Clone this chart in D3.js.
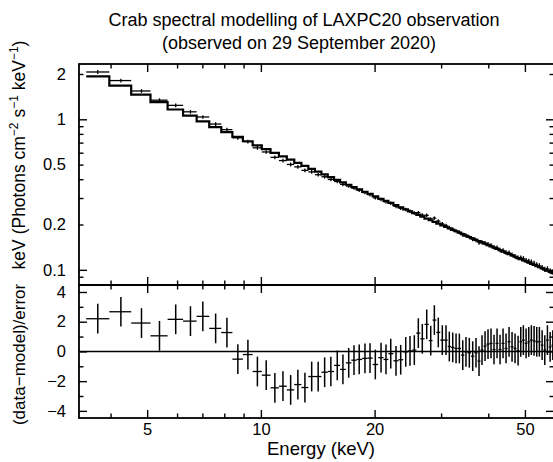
<!DOCTYPE html>
<html lang="en">
<head>
<meta charset="UTF-8">
<title>Crab spectral modelling of LAXPC20 observation</title>
<script src="https://d3js.org/d3.v7.min.js"></script>
<style>
  body { margin: 0; background: #fff; }
  svg { display: block; font-family: "Liberation Sans", Arial, Helvetica, sans-serif; }
  .frame { fill: none; stroke: #000; stroke-width: 1.8px; }
  .tick-axis path.domain { display: none; }
  .tick-axis line { stroke: #000; stroke-width: 1.4px; }
  .label-axis path.domain, .label-axis line { display: none; }
  .label-axis text { font-size: 16.5px; fill: #000; }
  .model { fill: none; stroke: #000; stroke-width: 2.2px; }
  .cross line { stroke: #000; stroke-width: 1.3px; }
  .zero { stroke: #000; stroke-width: 1.5px; }
</style>
</head>
<body>
<svg id="chart" width="553" height="462"></svg>
<script>
// bin centres (keV)
const energy = [3.70, 4.26, 4.83, 5.39, 5.95, 6.51, 7.02, 7.59, 8.13, 8.69,
  9.24, 9.79, 10.33, 10.89, 11.44, 11.99, 12.53, 13.08, 13.63, 14.18,
  14.75, 15.32, 15.93, 16.49, 17.08, 17.64, 18.21, 18.86, 19.45, 20.09,
  20.80, 21.44, 22.07, 22.79, 23.45, 24.18, 24.82, 25.48, 26.11, 26.75,
  27.48, 28.16, 28.79, 29.49, 30.22, 30.91, 31.54, 32.20, 32.86, 33.53,
  34.23, 34.91, 35.63, 36.37, 37.11, 37.80, 38.50, 39.21, 39.93, 40.67,
  41.42, 42.19, 42.97, 43.76, 44.57, 45.39, 46.23, 47.08, 47.96, 48.75,
  49.53, 50.36, 51.19, 52.00, 52.87, 53.74, 54.61, 55.53, 56.44, 57.35,
  58.31, 59.27];

// folded model, keV (Photons cm^-2 s^-1 keV^-1)
const model = [1.930, 1.675, 1.460, 1.300, 1.162, 1.058, 0.968, 0.888, 0.822, 0.764,
  0.715, 0.672, 0.634, 0.598, 0.567, 0.539, 0.514, 0.490, 0.469, 0.449,
  0.431, 0.413, 0.396, 0.3815, 0.3675, 0.3548, 0.3426, 0.3299, 0.3192, 0.3081,
  0.2967, 0.2871, 0.2783, 0.2687, 0.2604, 0.2520, 0.2449, 0.2380, 0.2317, 0.2257,
  0.2192, 0.2135, 0.2084, 0.2030, 0.1977, 0.1929, 0.1888, 0.1845, 0.1805, 0.1766,
  0.1727, 0.1690, 0.1653, 0.1616, 0.1582, 0.1550, 0.1520, 0.1490, 0.1461, 0.1432,
  0.1404, 0.1376, 0.1349, 0.1323, 0.1297, 0.1271, 0.1246, 0.1222, 0.1198, 0.1177,
  0.1157, 0.1136, 0.1116, 0.1097, 0.1077, 0.1058, 0.1040, 0.1022, 0.1004, 0.0987,
  0.0969, 0.0952];

// 1-sigma error on the data points
const fluxErr = [0.060, 0.050, 0.043, 0.038, 0.035, 0.031, 0.029, 0.027, 0.025, 0.021,
  0.020, 0.019, 0.017, 0.016, 0.015, 0.0146, 0.0139, 0.0132, 0.0127, 0.0121,
  0.0112, 0.0107, 0.0103, 0.0099, 0.0096, 0.0092, 0.0089, 0.0086, 0.0083, 0.0080,
  0.0077, 0.0075, 0.0072, 0.0073, 0.0070, 0.0068, 0.0066, 0.0064, 0.0065, 0.0063,
  0.0061, 0.0060, 0.0058, 0.0059, 0.0057, 0.0056, 0.0057, 0.0055, 0.0054, 0.0053,
  0.0054, 0.0052, 0.0051, 0.0050, 0.0051, 0.0050, 0.0049, 0.0048, 0.0048, 0.0047,
  0.0046, 0.0047, 0.0046, 0.0045, 0.0045, 0.0044, 0.0044, 0.0044, 0.0043, 0.0042,
  0.0043, 0.0042, 0.0041, 0.0042, 0.0041, 0.0040, 0.0041, 0.0040, 0.0040, 0.0039,
  0.0039, 0.0038];

// (data-model)/error
const residual = [2.2, 2.67, 1.91, 1.05, 2.16, 2.04, 2.36, 1.55, 1.27, -0.52,
  -0.21, -1.35, -1.6, -2.45, -2.34, -2.59, -2.23, -2.43, -1.69, -1.69,
  -1.40, -1.35, -0.94, -1.21, -0.77, -0.59, -0.54, -0.47, -0.45, -0.88,
  -0.42, -0.54, -0.15, -0.63, -0.56, -0.03, 0.03, 0.09, 1.23, 0.85,
  1.82, 0.73, 2.11, 1.28, 0.76, 0.76, 0.33, 0.27, 0.20, 0.20,
  -0.25, -0.03, -0.09, -0.32, -0.09, -0.65, 0.09, 0.36, 0.49, 0.54,
  0.13, 0.54, 0.13, 0.54, 0.20, 0.65, 0.31, 0.20, 0.05, 0.65,
  0.76, 0.54, 0.65, 0.76, 0.71, 0.65, 0.65, 0.42, 0.09, 0.76,
  0.31, 0.42];

const xMajor = [5, 10, 20, 50];
const xMinor = [4, 6, 7, 8, 9, 30, 40];
const topLabels = [0.1, 0.2, 0.5, 1, 2];
const topMajor = [0.1, 1];
const topMinor = [0.09, 0.2, 0.3, 0.4, 0.5, 0.6, 0.7, 0.8, 0.9, 2];
const resMajor = [-4, -2, 0, 2, 4];
const resMinor = [-3, -1, 1, 3];

const L = 79, R = 554, T = 64, MID = 285, B = 418;

const svg = d3.select("#chart");

const x = d3.scaleLog().domain([3.3, 59.7]).range([L, R]);
const yTop = d3.scaleLog().domain([0.0793, 2.33]).range([MID, T]);
const yRes = d3.scaleLinear().domain([-4.48, 4.47]).range([B, MID]);

// bin edges halfway (in log) between neighbouring centres
const bins = energy.map((e, i) => {
  const prev = i > 0 ? energy[i - 1] : e * e / energy[1];
  const next = i < energy.length - 1 ? energy[i + 1] : e * e / energy[i - 1];
  return {
    e, lo: Math.sqrt(prev * e), hi: Math.sqrt(e * next),
    model: model[i], err: fluxErr[i], res: residual[i],
    data: model[i] + residual[i] * fluxErr[i]
  };
});

const defs = svg.append("defs");
defs.append("clipPath").attr("id", "clipTop")
  .append("rect").attr("x", L).attr("y", T).attr("width", R - L).attr("height", MID - T);
defs.append("clipPath").attr("id", "clipRes")
  .append("rect").attr("x", L).attr("y", MID).attr("width", R - L).attr("height", B - MID);

// ---- spectrum panel ----
const specPanel = svg.append("g").attr("clip-path", "url(#clipTop)");

const stepPts = [];
bins.forEach(b => { stepPts.push([x(b.lo), yTop(b.model)], [x(b.hi), yTop(b.model)]); });
specPanel.append("path").attr("class", "model").attr("d", d3.line()(stepPts));

const dataCross = specPanel.append("g").attr("class", "cross")
  .selectAll("g").data(bins).join("g");
dataCross.append("line")
  .attr("x1", d => x(d.lo)).attr("x2", d => x(d.hi))
  .attr("y1", d => yTop(d.data)).attr("y2", d => yTop(d.data));
dataCross.append("line")
  .attr("x1", d => x(d.e)).attr("x2", d => x(d.e))
  .attr("y1", d => yTop(d.data - d.err)).attr("y2", d => yTop(d.data + d.err));

// ---- residual panel ----
const resPanel = svg.append("g").attr("clip-path", "url(#clipRes)");
resPanel.append("line").attr("class", "zero")
  .attr("x1", L).attr("x2", R).attr("y1", yRes(0)).attr("y2", yRes(0));

const resCross = resPanel.append("g").attr("class", "cross")
  .selectAll("g").data(bins).join("g");
resCross.append("line")
  .attr("x1", d => x(d.lo)).attr("x2", d => x(d.hi))
  .attr("y1", d => yRes(d.res)).attr("y2", d => yRes(d.res));
resCross.append("line")
  .attr("x1", d => x(d.e)).attr("x2", d => x(d.e))
  .attr("y1", d => yRes(d.res - 1)).attr("y2", d => yRes(d.res + 1))
  .style("stroke-width", "1.5px");

// ---- ticks (all pointing inwards) ----
function ticks(axis, values, size, tx, ty) {
  svg.append("g").attr("class", "tick-axis")
    .attr("transform", `translate(${tx},${ty})`)
    .call(axis.tickValues(values).tickSize(size).tickFormat(""));
}
[[xMajor, 8], [xMinor, 4.5]].forEach(([v, s]) => {
  ticks(d3.axisBottom(x), v, s, 0, T);
  ticks(d3.axisTop(x), v, s, 0, MID);
  ticks(d3.axisBottom(x), v, s, 0, MID);
  ticks(d3.axisTop(x), v, s, 0, B);
});
[[topMajor, 8], [topMinor, 4.5]].forEach(([v, s]) => {
  ticks(d3.axisRight(yTop), v, s, L, 0);
  ticks(d3.axisLeft(yTop), v, s, R, 0);
});
[[resMajor, 8], [resMinor, 4.5]].forEach(([v, s]) => {
  ticks(d3.axisRight(yRes), v, s, L, 0);
  ticks(d3.axisLeft(yRes), v, s, R, 0);
});

// ---- frames ----
svg.append("rect").attr("class", "frame")
  .attr("x", L).attr("y", T).attr("width", R - L).attr("height", MID - T);
svg.append("rect").attr("class", "frame")
  .attr("x", L).attr("y", MID).attr("width", R - L).attr("height", B - MID);

// ---- tick labels ----
svg.append("g").attr("class", "label-axis")
  .attr("transform", `translate(0,${B})`)
  .call(d3.axisBottom(x).tickValues(xMajor).tickSize(0).tickPadding(5).tickFormat(d3.format("d")));
svg.append("g").attr("class", "label-axis")
  .attr("transform", `translate(${L},0)`)
  .call(d3.axisLeft(yTop).tickValues(topLabels).tickSize(0).tickPadding(13).tickFormat(d => String(d)));
svg.append("g").attr("class", "label-axis")
  .attr("transform", `translate(${L},0)`)
  .call(d3.axisLeft(yRes).tickValues(resMajor).tickSize(0).tickPadding(13)
    .tickFormat(d => d < 0 ? "\u2212" + Math.abs(d) : String(d)));

// ---- titles ----
svg.append("text").attr("x", 304).attr("y", 26).attr("text-anchor", "middle")
  .style("font-size", "18px").text("Crab spectral modelling of LAXPC20 observation");
svg.append("text").attr("x", 299).attr("y", 49).attr("text-anchor", "middle")
  .style("font-size", "18px").text("(observed on 29 September 2020)");

svg.append("text").attr("x", 321).attr("y", 455).attr("text-anchor", "middle")
  .style("font-size", "18.5px").text("Energy (keV)");

const yt = svg.append("text")
  .attr("transform", "translate(25,155) rotate(-90)")
  .attr("text-anchor", "middle").style("font-size", "17.5px");
yt.append("tspan").text("keV (Photons cm");
yt.append("tspan").attr("dy", -7).style("font-size", "12px").text("\u22122");
yt.append("tspan").attr("dy", 7).text(" s");
yt.append("tspan").attr("dy", -7).style("font-size", "12px").text("\u22121");
yt.append("tspan").attr("dy", 7).text(" keV");
yt.append("tspan").attr("dy", -7).style("font-size", "12px").text("\u22121");
yt.append("tspan").attr("dy", 7).text(")");

svg.append("text")
  .attr("transform", `translate(25,${yRes(0) + 3}) rotate(-90)`)
  .attr("text-anchor", "middle").style("font-size", "17px")
  .text("(data\u2212model)/error");
</script>
</body>
</html>
